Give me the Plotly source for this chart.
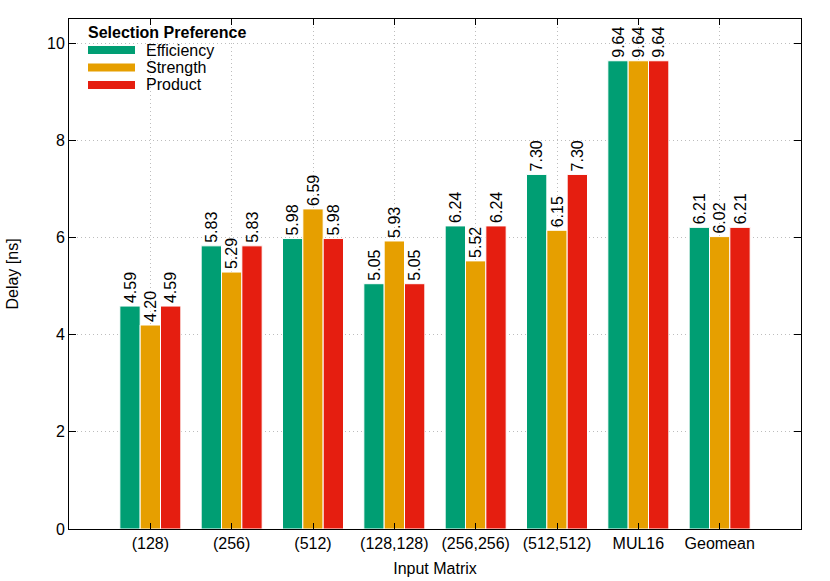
import plotly.graph_objects as go

categories = ["(128)", "(256)", "(512)", "(128,128)", "(256,256)", "(512,512)", "MUL16", "Geomean"]
series_names = ["Efficiency", "Strength", "Product"]
efficiency = [4.59, 5.83, 5.98, 5.05, 6.24, 7.30, 9.64, 6.21]
strength = [4.20, 5.29, 6.59, 5.93, 5.52, 6.15, 9.64, 6.02]
product = [4.59, 5.83, 5.98, 5.05, 6.24, 7.30, 9.64, 6.21]
y_ticks = [0, 2, 4, 6, 8, 10]
colors = ["#009E73", "#E69F00", "#E51E10"]

FONT = "Liberation Sans, Arial, sans-serif"
FS = 16
fig = go.Figure()
for name, vals, col in zip(series_names, [efficiency, strength, product], colors):
    fig.add_trace(go.Bar(
        x=list(range(len(categories))), y=vals, name=name,
        marker=dict(color=col, line=dict(color="white", width=1)),
        text=[f"{v:.2f}" for v in vals], textposition="outside", textangle=-90,
        textfont=dict(family=FONT, size=FS, color="black"),
        constraintext="none",
        cliponaxis=False, showlegend=False,
    ))

fig.update_layout(
    width=830, height=581,
    margin=dict(l=69, r=29, t=19, b=52, autoexpand=False),
    paper_bgcolor="white", plot_bgcolor="white",
    barmode="group", bargap=0.25, bargroupgap=0,
    font=dict(family=FONT, size=FS, color="black"),
)
fig.update_xaxes(
    range=[-1, 8], tickmode="array", tickvals=list(range(len(categories))), ticktext=categories,
    ticks="inside", ticklen=6, tickcolor="black", mirror="ticks",
    showline=True, linecolor="black", linewidth=1,
    showgrid=True, gridcolor="#bdbdbd", griddash="1px,3px", gridwidth=1,
    title=dict(text="Input Matrix", font=dict(size=FS), standoff=11),
    zeroline=False, automargin=False,
)
fig.update_yaxes(
    range=[0, 10.5], tickmode="array", tickvals=y_ticks,
    ticks="inside", ticklen=7, tickcolor="black", mirror="ticks",
    showline=True, linecolor="black", linewidth=1,
    showgrid=True, gridcolor="#bdbdbd", griddash="1px,3px", gridwidth=1,
    title=dict(text="Delay [ns]", font=dict(size=FS), standoff=24),
    zeroline=False, automargin=False,
)

# Custom legend (gnuplot style, wide colour swatches)
def px(x):
    return (x - 69) / (801 - 69)
def py(y):
    return (529 - y) / (529 - 19)

fig.add_annotation(x=px(86), y=py(32.5), xref="paper", yref="paper", xanchor="left", yanchor="middle",
                   text="<b>Selection Preference</b>", showarrow=False, font=dict(size=FS))
rows = [50, 67.5, 85]
for name, col, yc in zip(series_names, colors, rows):
    fig.add_shape(type="rect", xref="paper", yref="paper",
                  x0=px(88), x1=px(135), y0=py(yc - 4), y1=py(yc + 4),
                  fillcolor=col, line=dict(width=0))
    fig.add_annotation(x=px(144), y=py(yc), xref="paper", yref="paper", xanchor="left", yanchor="middle",
                       text=name, showarrow=False, font=dict(size=FS))

fig.write_html("out.html", config={"displayModeBar": False},
               post_script="document.body.style.margin='0';document.body.style.padding='0';")
